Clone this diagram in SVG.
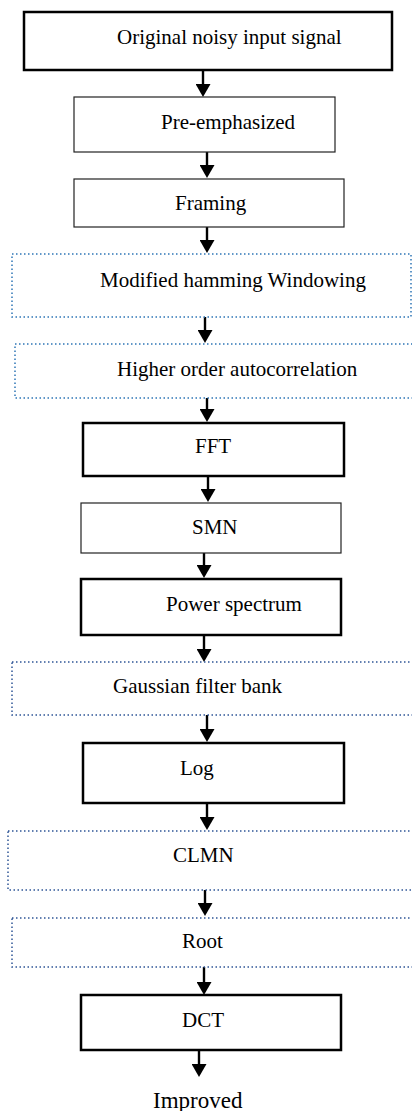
<svg xmlns="http://www.w3.org/2000/svg" width="412" height="1111" viewBox="0 0 412 1111">
<style>
text{font-family:"Liberation Serif","Times New Roman",serif;font-size:21px;fill:#000}
.thick{fill:#fff;stroke:#000;stroke-width:2.5}
.thin{fill:#fff;stroke:#222;stroke-width:1.2}
.dotA{fill:none;stroke:#2e75b6;stroke-width:1.5;stroke-dasharray:1.5 2.5}
.dotB{fill:none;stroke:#2f5597;stroke-width:1.5;stroke-dasharray:1.5 2.5}
.conn{stroke:#000;stroke-width:2.4;fill:none;marker-end:url(#ah)}
</style>
<defs>
<marker id="ah" markerUnits="userSpaceOnUse" viewBox="0 0 13 15" markerWidth="13" markerHeight="15" refX="7" refY="7.5" orient="auto">
<path d="M0,0 L13,7.5 L0,15 z" fill="#000"/>
</marker>
</defs>
<rect width="412" height="1111" fill="#fff"/>
<g id="connectors">
<line class="conn" x1="203" y1="70" x2="203" y2="91"/>
<line class="conn" x1="207" y1="152" x2="207" y2="172"/>
<line class="conn" x1="207" y1="227" x2="207" y2="247"/>
<line class="conn" x1="205" y1="317" x2="205" y2="337"/>
<line class="conn" x1="207" y1="398" x2="207" y2="416"/>
<line class="conn" x1="208" y1="476" x2="208" y2="496"/>
<line class="conn" x1="204" y1="553" x2="204" y2="572"/>
<line class="conn" x1="204" y1="635" x2="204" y2="656"/>
<line class="conn" x1="207" y1="715" x2="207" y2="736"/>
<line class="conn" x1="207" y1="803" x2="207" y2="824"/>
<line class="conn" x1="205" y1="890" x2="205" y2="910"/>
<line class="conn" x1="204" y1="967" x2="204" y2="989"/>
<line class="conn" x1="199" y1="1050" x2="199" y2="1071"/>
</g>
<g id="n1"><rect class="thick" x="24" y="12" width="368" height="58"/><text x="117" y="44">Original noisy input signal</text></g>
<g id="n2"><rect class="thin" x="74" y="97" width="261" height="55"/><text x="161" y="129">Pre-emphasized</text></g>
<g id="n3"><rect class="thin" x="74" y="179" width="270" height="48"/><text x="175" y="210">Framing</text></g>
<g id="n4"><rect class="dotA" x="12" y="254" width="399" height="63"/><text x="100" y="287">Modified hamming Windowing</text></g>
<g id="n5"><rect class="dotA" x="15" y="344" width="410" height="54"/><text x="117" y="376">Higher order autocorrelation</text></g>
<g id="n6"><rect class="thick" x="83" y="423" width="261" height="53"/><text x="195" y="453">FFT</text></g>
<g id="n7"><rect class="thin" x="81" y="503" width="260" height="50"/><text x="192" y="534">SMN</text></g>
<g id="n8"><rect class="thick" x="81" y="579" width="260" height="56"/><text x="166" y="611">Power spectrum</text></g>
<g id="n9"><rect class="dotB" x="12" y="662" width="410" height="53"/><text x="113" y="693">Gaussian filter bank</text></g>
<g id="n10"><rect class="thick" x="83" y="743" width="261" height="60"/><text x="180" y="775">Log</text></g>
<g id="n11"><rect class="dotB" x="8" y="831" width="414" height="59"/><text x="173" y="862">CLMN</text></g>
<g id="n12"><rect class="dotB" x="12" y="918" width="410" height="49"/><text x="182" y="948">Root</text></g>
<g id="n13"><rect class="thick" x="81" y="995" width="260" height="55"/><text x="182" y="1027">DCT</text></g>
<g id="n14"><text x="153" y="1108" style="font-size:23px">Improved</text></g>
</svg>
